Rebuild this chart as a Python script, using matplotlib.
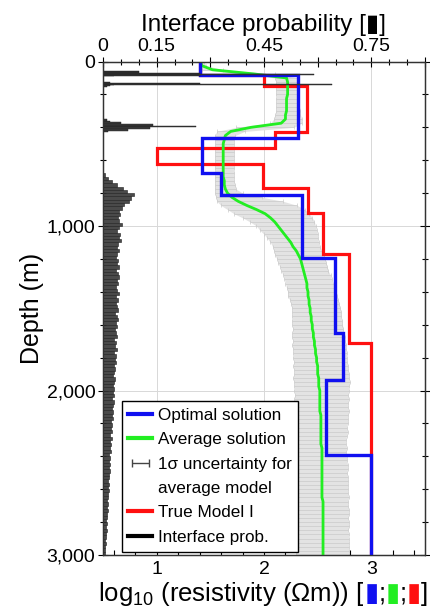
import numpy as np
import matplotlib
matplotlib.use("Agg")
import matplotlib.pyplot as plt
from matplotlib.lines import Line2D
from matplotlib.ticker import MultipleLocator, FixedLocator
from matplotlib.offsetbox import TextArea, HPacker, AnchoredOffsetbox

plt.rcParams['font.family'] = ['Liberation Sans', 'DejaVu Sans']
plt.rcParams['mathtext.fontset'] = 'custom'
plt.rcParams['mathtext.rm'] = 'Liberation Sans'
plt.rcParams['mathtext.it'] = 'Liberation Sans:italic'

# ---------------- layered models (layer boundaries in m, log10 resistivity) ----
optimal_edges = [0, 80, 465, 676, 811, 1196, 1652, 1937, 2395, 3000]
optimal_rho = [1.40, 2.32, 1.42, 1.60, 2.35, 2.66, 2.74, 2.58, 3.00]

true_edges = [0, 80, 150, 427, 525, 626, 771, 923, 1172, 1712, 3000]
true_rho = [1.40, 2.00, 2.40, 2.10, 1.00, 1.99, 2.41, 2.55, 2.79, 3.00]

# ---------------- average model and 1-sigma bounds, every 25 m ----------------
avg_depth = np.arange(0, 3001, 25)
avg_rho = [
    1.41, 1.42, 1.52, 1.90, 2.21, 2.22, 2.22, 2.22,
    2.22, 2.21, 2.21, 2.21, 2.21, 2.20, 2.20, 2.16,
    1.88, 1.69, 1.64, 1.63, 1.62, 1.62, 1.62, 1.62,
    1.62, 1.62, 1.62, 1.62, 1.62, 1.63, 1.63, 1.64,
    1.66, 1.70, 1.76, 1.84, 1.93, 2.01, 2.06, 2.10,
    2.13, 2.16, 2.19, 2.22, 2.25, 2.27, 2.30, 2.32,
    2.34, 2.35, 2.36, 2.37, 2.38, 2.39, 2.40, 2.40,
    2.41, 2.41, 2.42, 2.42, 2.43, 2.43, 2.44, 2.44,
    2.45, 2.45, 2.46, 2.46, 2.47, 2.47, 2.48, 2.48,
    2.49, 2.49, 2.50, 2.50, 2.50, 2.51, 2.51, 2.51,
    2.52, 2.52, 2.52, 2.52, 2.52, 2.52, 2.53, 2.53,
    2.53, 2.53, 2.53, 2.53, 2.53, 2.53, 2.54, 2.54,
    2.54, 2.54, 2.54, 2.54, 2.54, 2.54, 2.54, 2.54,
    2.54, 2.54, 2.54, 2.55, 2.55, 2.55, 2.55, 2.55,
    2.55, 2.55, 2.55, 2.55, 2.55, 2.55, 2.55, 2.55,
    2.55,
]
avg_lo = [
    1.39, 1.39, 1.42, 1.78, 2.10, 2.11, 2.11, 2.11,
    2.11, 2.11, 2.11, 2.11, 2.11, 2.10, 2.09, 2.06,
    1.74, 1.56, 1.54, 1.54, 1.54, 1.54, 1.54, 1.54,
    1.54, 1.54, 1.54, 1.54, 1.54, 1.54, 1.54, 1.54,
    1.54, 1.55, 1.56, 1.60, 1.66, 1.72, 1.80, 1.87,
    1.93, 1.96, 2.00, 2.03, 2.06, 2.08, 2.09, 2.10,
    2.12, 2.13, 2.15, 2.16, 2.18, 2.19, 2.20, 2.21,
    2.22, 2.22, 2.24, 2.25, 2.26, 2.26, 2.26, 2.26,
    2.26, 2.27, 2.26, 2.26, 2.27, 2.26, 2.27, 2.27,
    2.27, 2.28, 2.27, 2.28, 2.28, 2.27, 2.28, 2.28,
    2.28, 2.29, 2.28, 2.29, 2.28, 2.29, 2.29, 2.28,
    2.29, 2.29, 2.30, 2.29, 2.29, 2.30, 2.29, 2.30,
    2.30, 2.29, 2.30, 2.30, 2.29, 2.30, 2.30, 2.30,
    2.30, 2.30, 2.29, 2.30, 2.30, 2.30, 2.30, 2.29,
    2.30, 2.30, 2.29, 2.30, 2.30, 2.30, 2.29, 2.30,
    2.30,
]
avg_hi = [
    1.44, 1.46, 1.62, 2.10, 2.32, 2.33, 2.33, 2.33,
    2.33, 2.33, 2.33, 2.33, 2.34, 2.34, 2.35, 2.35,
    2.28, 1.82, 1.73, 1.72, 1.72, 1.72, 1.72, 1.72,
    1.72, 1.72, 1.72, 1.72, 1.72, 1.72, 1.73, 1.74,
    1.80, 1.98, 2.18, 2.31, 2.38, 2.42, 2.45, 2.47,
    2.48, 2.49, 2.50, 2.50, 2.51, 2.52, 2.54, 2.56,
    2.57, 2.58, 2.59, 2.60, 2.62, 2.63, 2.65, 2.66,
    2.67, 2.68, 2.69, 2.70, 2.71, 2.72, 2.72, 2.73,
    2.73, 2.74, 2.74, 2.75, 2.75, 2.76, 2.76, 2.77,
    2.77, 2.77, 2.78, 2.78, 2.79, 2.79, 2.80, 2.79,
    2.79, 2.78, 2.79, 2.78, 2.78, 2.79, 2.78, 2.78,
    2.78, 2.77, 2.78, 2.77, 2.76, 2.76, 2.77, 2.76,
    2.77, 2.77, 2.78, 2.78, 2.77, 2.78, 2.78, 2.78,
    2.78, 2.78, 2.79, 2.78, 2.78, 2.79, 2.79, 2.78,
    2.79, 2.79, 2.78, 2.79, 2.79, 2.79, 2.79, 2.79,
    2.79,
]

# ---------------- interface probability histogram ----------------------------
# sharp interfaces near the surface (5 m bins)
spike_depth = [62.5, 67.5, 72.5, 77.5, 82.5, 87.5,
               127.5, 132.5, 137.5, 142.5, 147.5, 152.5]
spike_prob = [0.10, 0.10, 0.27, 0.59, 0.27, 0.03,
              0.02, 0.27, 0.64, 0.03, 0.02, 0.01]
# interface around 400 m (10 m bins)
mid_depth = [355, 365, 375, 385, 395, 405, 415, 425]
mid_prob = [0.01, 0.02, 0.05, 0.14, 0.26, 0.13, 0.07, 0.015]
# deeper part (20 m bins, 680-3000 m)
deep_top = np.arange(680, 3000, 20)
deep_prob = [
    0.005, 0.015, 0.025, 0.040, 0.055, 0.068, 0.088, 0.078,
    0.072, 0.060, 0.052, 0.045, 0.048, 0.042, 0.045, 0.052,
    0.046, 0.040, 0.048, 0.044, 0.050, 0.042, 0.038, 0.045,
    0.040, 0.036, 0.043, 0.039, 0.045, 0.037, 0.041, 0.046,
    0.038, 0.042, 0.036, 0.040, 0.044, 0.037, 0.041, 0.035,
    0.039, 0.043, 0.034, 0.038, 0.041, 0.035, 0.039, 0.033,
    0.037, 0.040, 0.032, 0.036, 0.034, 0.038, 0.031, 0.035,
    0.033, 0.037, 0.030, 0.034, 0.032, 0.028, 0.033, 0.030,
    0.027, 0.032, 0.029, 0.031, 0.026, 0.030, 0.027, 0.025,
    0.029, 0.024, 0.027, 0.023, 0.026, 0.022, 0.025, 0.021,
    0.024, 0.020, 0.023, 0.019, 0.022, 0.018, 0.021, 0.017,
    0.020, 0.016, 0.019, 0.016, 0.018, 0.015, 0.017, 0.014,
    0.016, 0.013, 0.015, 0.012, 0.014, 0.011, 0.013, 0.010,
    0.012, 0.009, 0.011, 0.009, 0.010, 0.008, 0.009, 0.007,
    0.008, 0.006, 0.007, 0.005,
]

BLUE = '#1010f0'
GREEN = '#22ee22'
RED = '#ff1010'

fig = plt.figure(figsize=(4.3, 6.14), dpi=100)
ax = fig.add_axes([0.2395, 0.0961, 0.7489, 0.8037])

# uncertainty band drawn as dense horizontal error bars
lo = np.array(avg_lo)
hi = np.array(avg_hi)
mu = np.array(avg_rho)
ax.fill_betweenx(avg_depth, lo, hi, color='#e3e3e3', lw=0, zorder=1)
ax.errorbar(mu, avg_depth, xerr=[mu - lo, hi - mu], fmt='none',
            ecolor='#cacaca', elinewidth=0.5, capsize=1.2, capthick=0.5,
            zorder=1.5)

ax.stairs(true_rho, true_edges, orientation='horizontal', baseline=None,
          color=RED, lw=2.3, zorder=3)
ax.plot(mu, avg_depth, color=GREEN, lw=2.0, zorder=4)
ax.stairs(optimal_rho, optimal_edges, orientation='horizontal', baseline=None,
          color=BLUE, lw=2.4, zorder=5)

ax.set_xlim(0.5, 3.5)
ax.set_ylim(3000, 0)
ax.set_xticks([1, 2, 3])
ax.set_xticklabels(['1', '2', '3'])
ax.xaxis.set_minor_locator(MultipleLocator(0.2))
ax.set_yticks([0, 1000, 2000, 3000])
ax.set_yticklabels(['0', '1,000', '2,000', '3,000'])
ax.yaxis.set_minor_locator(MultipleLocator(200))
ax.grid(True, which='major', color='#d8d8d8', lw=0.7, zorder=0)
ax.set_axisbelow(True)
ax.tick_params(axis='x', which='both', direction='in', top=False,
               labelsize=14, pad=4, width=0.8)
ax.tick_params(axis='x', which='major', length=6)
ax.tick_params(axis='x', which='minor', length=3.5)
ax.tick_params(axis='y', which='both', direction='inout', left=True,
               right=True, labelsize=14, pad=2, width=0.8)
ax.tick_params(axis='y', which='major', length=7)
ax.tick_params(axis='y', which='minor', length=4)
for s in ax.spines.values():
    s.set_color('#333333')
    s.set_linewidth(0.9)
ax.set_ylabel('Depth (m)', fontsize=18, labelpad=2)

# interface probability on the upper axis
axh = ax.twiny()
axh.set_xlim(0, 0.9)
axh.barh(spike_depth, spike_prob, height=5, left=0, color='#3c3c3c',
         edgecolor='#1e1e1e', linewidth=0.3)
axh.barh(mid_depth, mid_prob, height=10, left=0, color='#3c3c3c',
         edgecolor='#1e1e1e', linewidth=0.3)
axh.barh(deep_top + 10, deep_prob, height=20, left=0, color='#4a4a4a',
         edgecolor='#1e1e1e', linewidth=0.4)
axh.xaxis.set_major_locator(FixedLocator([0, 0.15, 0.3, 0.45, 0.6, 0.75, 0.9]))
axh.set_xticklabels(['0', '0.15', '', '0.45', '', '0.75', ''])
axh.xaxis.set_minor_locator(MultipleLocator(0.05))
axh.tick_params(axis='x', which='both', direction='inout', labelsize=14,
                pad=1, width=0.8)
axh.tick_params(axis='x', which='major', length=7)
axh.tick_params(axis='x', which='minor', length=4)
for s in axh.spines.values():
    s.set_color('#333333')
    s.set_linewidth(0.9)
axh.set_xlabel('Interface probability [▮]', fontsize=17.5, labelpad=5)

# legend
eb_proxy = ax.errorbar([np.nan], [np.nan], xerr=[[0.1], [0.1]], fmt='none',
                       ecolor='#444444', elinewidth=1.0, capsize=3,
                       capthick=1.0)
handles = [
    Line2D([], [], color=BLUE, lw=3),
    Line2D([], [], color=GREEN, lw=3),
    eb_proxy,
    Line2D([], [], linestyle='none'),
    Line2D([], [], color=RED, lw=3),
    Line2D([], [], color='black', lw=3),
]
labels = ['Optimal solution', 'Average solution', '1σ uncertainty for',
          'average model', 'True Model I', 'Interface prob.']
leg = axh.legend(handles, labels, loc='lower left',
                 bbox_to_anchor=(0.058, 0.007), fontsize=12.3, frameon=True,
                 fancybox=False, framealpha=1, edgecolor='black',
                 borderpad=0.4, labelspacing=0.55, handlelength=1.4,
                 handletextpad=0.3, borderaxespad=0)
leg.get_frame().set_linewidth(1.0)
leg.set_zorder(10)

# bottom axis label with the colour key
fs = 18.5
parts = [
    TextArea('log$_{10}$ (resistivity ($\\Omega$m)) [', textprops=dict(fontsize=fs, color='black')),
    TextArea('▮', textprops=dict(fontsize=fs, color=BLUE)),
    TextArea(';', textprops=dict(fontsize=fs, color='black')),
    TextArea('▮', textprops=dict(fontsize=fs, color=GREEN)),
    TextArea(';', textprops=dict(fontsize=fs, color='black')),
    TextArea('▮', textprops=dict(fontsize=fs, color=RED)),
    TextArea(']', textprops=dict(fontsize=fs, color='black')),
]
xl = HPacker(children=parts, align='baseline', pad=0, sep=0)
anch = AnchoredOffsetbox(loc='lower center', child=xl, pad=0, frameon=False,
                         bbox_to_anchor=(0.612, 0.010),
                         bbox_transform=fig.transFigure, borderpad=0)
fig.add_artist(anch)

fig.savefig('out.png', dpi=100)
